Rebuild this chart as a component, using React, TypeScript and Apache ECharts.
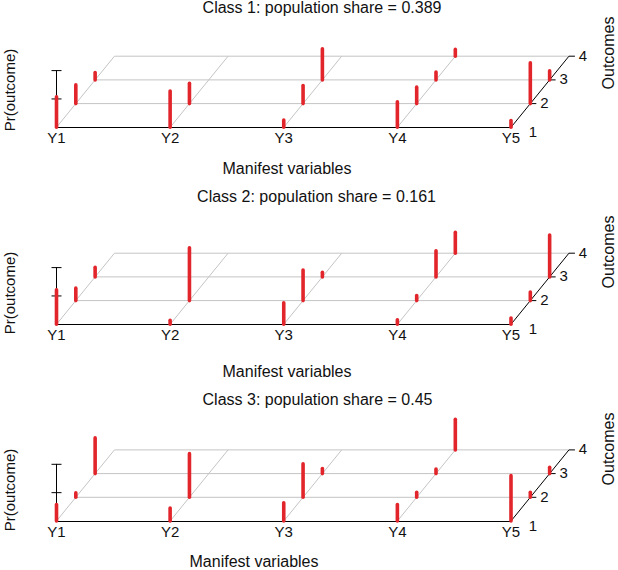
import React, { useEffect, useRef } from 'react';
import * as echarts from 'echarts';

// ---- data ----
const variables = ['Y1', 'Y2', 'Y3', 'Y4', 'Y5'];
const outcomes = ['1', '2', '3', '4'];
const shares = [0.389, 0.161, 0.45];
// rows: variables Y1..Y5, columns: outcomes 1..4 (Pr(outcome))
const class1 = [
  [0.54, 0.33, 0.13, 0],
  [0.64, 0.36, 0, 0],
  [0.13, 0.32, 0.55, 0],
  [0.45, 0.29, 0.14, 0.12],
  [0.12, 0.72, 0.16, 0],
];
const class2 = [
  [0.61, 0.22, 0.17, 0],
  [0.07, 0.93, 0, 0],
  [0.38, 0.54, 0.08, 0],
  [0.08, 0.09, 0.46, 0.37],
  [0.11, 0.15, 0.74, 0],
];
const class3 = [
  [0.29, 0.08, 0.63, 0],
  [0.23, 0.77, 0, 0],
  [0.32, 0.59, 0.09, 0],
  [0.29, 0.09, 0.08, 0.54],
  [0.8, 0.09, 0.11, 0],
];
const classes = [class1, class2, class3];

// ---- styling / layout ----
const DX = 0.17; // oblique depth shift per outcome (variable units)
const DY = 0.418; // oblique depth shift per outcome (probability units)
const RED = '#e2252b';
const GREY = '#c4c4c4';
const INK = '#111111';
const FONT = '"Liberation Sans", Arial, Helvetica, sans-serif';
const GRID_LEFT = 56.5;
const GRID_W = 454.5;
const UNIT_H = 56.7;

const layout = [
  { base: 127.3, title: [322, 7], xname: [287, 168.5], yname: [9, 90], zname: [608, 53] },
  { base: 324.3, title: [316.5, 196], xname: [287, 371], yname: [9, 293], zname: [608, 252] },
  { base: 521, title: [317.5, 399], xname: [254, 561], yname: [9, 490], zname: [608, 449] },
];

function buildOption() {
  const grid = layout.map((l) => ({
    left: GRID_LEFT,
    width: GRID_W,
    top: l.base - UNIT_H,
    height: UNIT_H,
    containLabel: false,
  }));
  const xAxis = layout.map((_, i) => ({
    gridIndex: i,
    type: 'value',
    min: 0,
    max: variables.length - 1,
    interval: 1,
    axisLine: { show: true, lineStyle: { color: '#000', width: 1 } },
    axisTick: { show: false },
    splitLine: { show: false },
    axisLabel: {
      formatter: (v: number) => variables[Math.round(v)] ?? '',
      color: INK,
      fontSize: 15,
      fontFamily: FONT,
      margin: 3,
    },
  }));
  const yAxis = layout.map((_, i) => ({
    gridIndex: i,
    type: 'value',
    min: 0,
    max: 1,
    interval: 0.5,
    axisLine: { show: true, lineStyle: { color: '#000', width: 1 } },
    axisTick: { show: false },
    axisLabel: { show: false },
    splitLine: { show: false },
  }));

  const series: any[] = [];
  layout.forEach((_, i) => {
    // floor grid, outcome axis and probability ticks
    series.push({
      type: 'custom',
      name: `frame${i + 1}`,
      xAxisIndex: i,
      yAxisIndex: i,
      clip: false,
      silent: true,
      z: 1,
      data: [[0, 0]],
      renderItem: (_p: any, api: any) => {
        const c = (x: number, y: number) => api.coord([x, y]);
        const ch: any[] = [];
        const line = (a: number[], b: number[], color: string) =>
          ch.push({
            type: 'line',
            shape: { x1: a[0], y1: a[1], x2: b[0], y2: b[1] },
            style: { stroke: color, lineWidth: 1 },
          });
        const nV = variables.length - 1;
        const nO = outcomes.length - 1;
        for (let o = 1; o <= nO; o++) line(c(o * DX, o * DY), c(nV + o * DX, o * DY), GREY);
        for (let v = 0; v < nV; v++) line(c(v, 0), c(v + nO * DX, nO * DY), GREY);
        line(c(nV, 0), c(nV + nO * DX, nO * DY), '#000');
        for (let o = 1; o <= nO; o++) {
          const p = c(nV + o * DX, o * DY);
          line(p, [p[0] + 6, p[1]], '#000');
        }
        outcomes.forEach((lab, o) => {
          const p = c(nV + o * DX, o * DY);
          const off = o === 0 ? [22, 4] : [14, -1];
          ch.push({
            type: 'text',
            x: p[0] + off[0],
            y: p[1] + off[1],
            style: {
              text: lab,
              fill: INK,
              fontSize: 15,
              fontFamily: FONT,
              align: 'center',
              verticalAlign: 'middle',
            },
          });
        });
        [0.5, 1].forEach((t) => {
          const p = c(0, t);
          line([p[0] - 5, p[1]], [p[0] + 5, p[1]], '#000');
        });
        return { type: 'group', children: ch };
      },
    });
    // probability bars
    const data: number[][] = [];
    classes[i].forEach((row, v) =>
      row.forEach((p, o) => {
        if (p > 0) data.push([v, o, p]);
      })
    );
    series.push({
      type: 'custom',
      name: `Class ${i + 1}`,
      xAxisIndex: i,
      yAxisIndex: i,
      clip: false,
      z: 3,
      data,
      renderItem: (_p: any, api: any) => {
        const v = api.value(0);
        const o = api.value(1);
        const p = api.value(2);
        const a = api.coord([v + o * DX, o * DY]);
        const b = api.coord([v + o * DX, o * DY + p]);
        return {
          type: 'line',
          shape: { x1: a[0], y1: a[1], x2: b[0], y2: b[1] },
          style: { stroke: RED, lineWidth: 3.6, lineCap: 'round' },
        };
      },
    });
  });

  const txt = (text: string, pos: number[], size: number, rot = 0) => ({
    type: 'text',
    x: pos[0],
    y: pos[1],
    rotation: rot,
    silent: true,
    style: {
      text,
      fill: INK,
      fontSize: size,
      fontFamily: FONT,
      align: 'center',
      verticalAlign: 'middle',
    },
  });
  const graphic: any[] = [];
  layout.forEach((l, i) => {
    graphic.push(txt(`Class ${i + 1}: population share = ${shares[i]}`, l.title, 16));
    graphic.push(txt('Manifest variables', l.xname, 16));
    graphic.push(txt('Pr(outcome)', l.yname, 15, Math.PI / 2));
    graphic.push(txt('Outcomes', l.zname, 16, Math.PI / 2));
  });

  return {
    animation: false,
    backgroundColor: '#ffffff',
    grid,
    xAxis,
    yAxis,
    series,
    graphic,
  };
}

export default function App() {
  const ref = useRef<HTMLDivElement>(null);
  useEffect(() => {
    if (!ref.current) return;
    const chart = echarts.init(ref.current, undefined, { renderer: 'svg' });
    chart.setOption(buildOption() as any);
    return () => chart.dispose();
  }, []);
  return (
    <div
      ref={ref}
      style={{ position: 'absolute', left: 0, top: 0, width: 618, height: 570, background: '#fff' }}
    />
  );
}
